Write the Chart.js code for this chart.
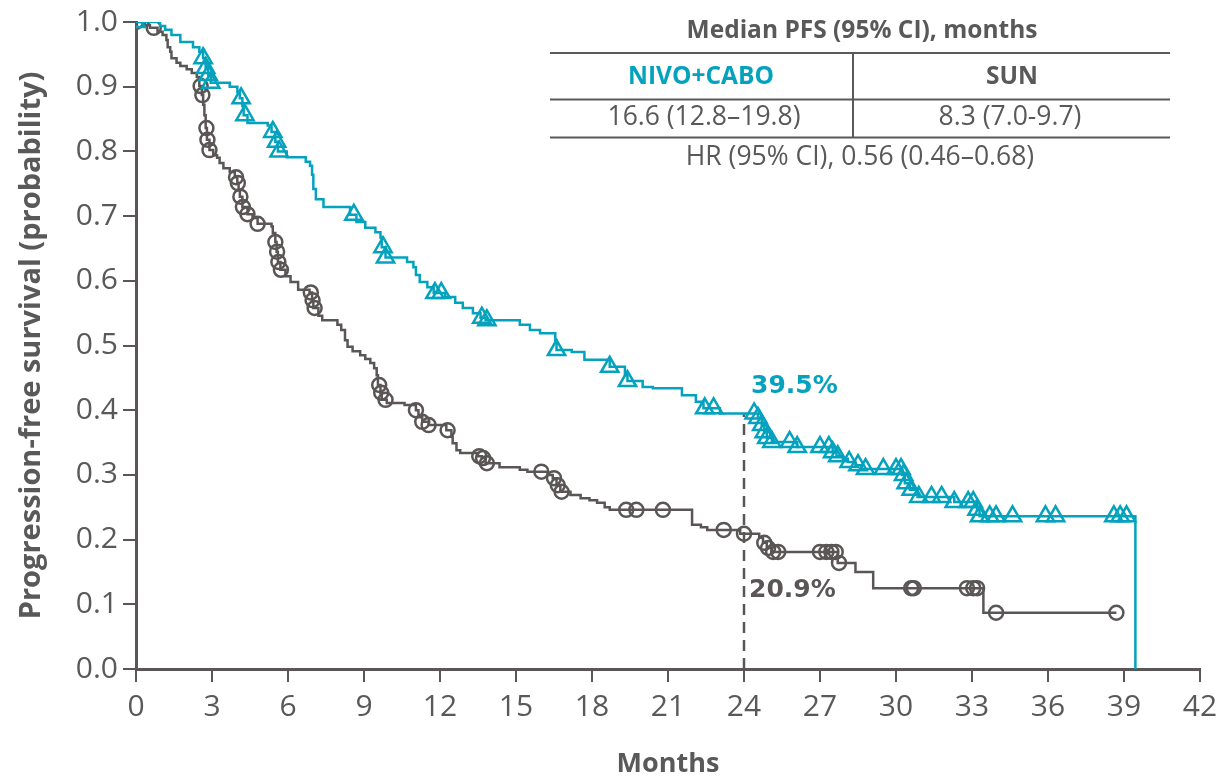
<!DOCTYPE html>
<html>
<head>
<meta charset="utf-8">
<script src="https://cdn.jsdelivr.net/npm/chart.js@4.4.1/dist/chart.umd.min.js"></script>
<style>
  html, body { margin: 0; padding: 0; background: #ffffff; }
  #wrap { width: 1222px; height: 778px; position: relative; }
</style>
</head>
<body>
<div id="wrap"><canvas id="km" width="1222" height="778"></canvas></div>
<script>
// Kaplan-Meier progression-free survival, NIVO+CABO vs SUN

// Axis tick values
const monthTicks = [0, 3, 6, 9, 12, 15, 18, 21, 24, 27, 30, 33, 36, 39, 42];
const probTicks = [0.0, 0.1, 0.2, 0.3, 0.4, 0.5, 0.6, 0.7, 0.8, 0.9, 1.0];

// NIVO+CABO: step times (months) and survival from each time onward
const nivoTimes = [0, 0.95, 1.15, 1.4, 1.75, 2.25, 2.5, 2.65, 2.75, 2.85, 2.95, 3.7, 4.0, 4.1, 4.2, 4.25, 4.4,
  5.2, 5.35, 5.5, 5.6, 5.95, 6.7, 6.87, 6.95, 7.0, 7.1, 7.4, 8.45, 8.7, 9.05, 9.45, 9.65, 9.7, 9.85,
  10.7, 10.95, 11.05, 11.2, 11.5, 11.75, 12.2, 12.6, 12.9, 13.3, 13.6, 13.8, 15.15, 15.55, 15.95,
  16.55, 16.6, 17.2, 17.7, 18.7, 19.3, 19.4, 20.0, 20.4, 21.55, 22.1, 22.4, 23.05,
  24.55, 24.7, 24.8, 24.9, 25.1, 26.1, 27.5, 27.65, 27.9, 28.1, 28.4, 28.65,
  30.25, 30.35, 30.55, 30.85, 32.3, 33.2, 33.3, 39.45];
const nivoSurv = [1.000, 0.994, 0.988, 0.980, 0.969, 0.961, 0.954, 0.944, 0.929, 0.918, 0.906, 0.900, 0.892, 0.882, 0.870, 0.856, 0.844,
  0.840, 0.830, 0.815, 0.800, 0.791, 0.784, 0.778, 0.764, 0.742, 0.726, 0.714, 0.702, 0.691, 0.682, 0.675, 0.667, 0.652, 0.636,
  0.629, 0.621, 0.609, 0.598, 0.590, 0.581, 0.575, 0.566, 0.558, 0.550, 0.543, 0.539, 0.532, 0.524, 0.519,
  0.508, 0.493, 0.490, 0.478, 0.467, 0.454, 0.445, 0.436, 0.434, 0.423, 0.413, 0.403, 0.395,
  0.388, 0.377, 0.366, 0.357, 0.351, 0.343, 0.335, 0.329, 0.325, 0.320, 0.315, 0.309,
  0.300, 0.287, 0.277, 0.266, 0.258, 0.246, 0.236, 0.000];
// NIVO+CABO censoring times (months)
const nivoCensored = [0, 2.65, 2.75, 2.85, 2.95, 4.15, 4.3, 5.4, 5.55, 5.65, 8.6, 9.75, 9.85, 11.8, 12.05,
  13.65, 13.85, 16.6, 18.7, 19.4, 22.45, 22.8, 24.4, 24.55, 24.7, 24.8, 24.9, 25.1, 25.8, 26.1,
  27.0, 27.35, 27.5, 27.7, 28.15, 28.5, 28.8, 29.5, 30.0, 30.2, 30.3, 30.4, 30.6, 30.9, 31.4, 31.8,
  32.3, 32.85, 33.05, 33.2, 33.3, 33.7, 33.95, 34.6, 35.9, 36.3, 38.6, 38.85, 39.1];

// SUN: step times (months) and survival from each time onward
const sunTimes = [0, 0.35, 0.55, 0.85, 1.05, 1.2, 1.25, 1.35, 1.4, 1.6, 1.75, 2.0, 2.2, 2.4, 2.5, 2.6, 2.65, 2.7, 2.75, 2.8, 2.9,
  3.05, 3.2, 3.3, 3.45, 3.7, 3.9, 4.0, 4.05, 4.1, 4.2, 4.4, 4.6, 4.8, 5.35, 5.4, 5.5, 5.55, 5.6, 5.7, 5.9,
  6.1, 6.4, 6.85, 6.95, 7.0, 7.2, 7.35, 7.95, 8.1, 8.25, 8.35, 8.55, 8.85, 9.05, 9.25, 9.4, 9.5, 9.55, 9.65, 9.7, 9.9,
  10.6, 11.05, 11.15, 11.3, 11.55, 12.25, 12.45, 12.5, 12.65, 12.8, 13.5, 13.65, 13.8, 14.35, 15.15, 15.45,
  16.25, 16.45, 16.6, 16.75, 17.15, 17.55, 17.9, 18.2, 18.5, 18.7, 21.95, 22.3, 22.55, 23.85,
  24.6, 24.75, 24.9, 25.1, 27.7, 28.4, 29.1, 33.45, 38.7];
const sunSurv = [1.000, 0.995, 0.991, 0.985, 0.980, 0.972, 0.961, 0.954, 0.944, 0.937, 0.932, 0.927, 0.921, 0.915, 0.901, 0.887, 0.872, 0.856, 0.836, 0.818, 0.802,
  0.794, 0.790, 0.782, 0.774, 0.768, 0.760, 0.751, 0.740, 0.730, 0.714, 0.703, 0.697, 0.688, 0.684, 0.674, 0.660, 0.645, 0.629, 0.617, 0.607,
  0.598, 0.586, 0.582, 0.570, 0.558, 0.546, 0.539, 0.532, 0.524, 0.508, 0.498, 0.491, 0.485, 0.479, 0.473, 0.465, 0.454, 0.439, 0.427, 0.416, 0.411,
  0.408, 0.400, 0.389, 0.382, 0.377, 0.369, 0.359, 0.349, 0.338, 0.334, 0.329, 0.326, 0.318, 0.312, 0.308, 0.305,
  0.300, 0.295, 0.284, 0.274, 0.269, 0.264, 0.261, 0.257, 0.250, 0.246, 0.223, 0.219, 0.215, 0.209,
  0.203, 0.195, 0.187, 0.181, 0.164, 0.150, 0.125, 0.087, 0.087];
// SUN censoring times (months)
const sunCensored = [0, 0.7, 2.55, 2.62, 2.78, 2.82, 2.9, 3.95, 4.02, 4.12, 4.22, 4.4, 4.8, 5.5, 5.57, 5.62, 5.72,
  6.9, 6.97, 7.05, 9.6, 9.68, 9.85, 11.05, 11.3, 11.55, 12.3, 13.55, 13.7, 13.85, 16.0, 16.5, 16.65, 16.8,
  19.35, 19.75, 20.8, 23.2, 24.0, 24.8, 24.95, 25.15, 25.35, 27.0, 27.25, 27.45, 27.62, 27.75,
  30.6, 30.7, 32.8, 33.05, 33.2, 33.95, 38.7];

// 24-month landmark
const landmarkMonth = 24;
const landmarkNivo = 0.395;
const landmarkSun = 0.209;

// Summary table text
const tableTitle = 'Median PFS (95% CI), months';
const armNames = ['NIVO+CABO', 'SUN'];
const armMedians = ['16.6 (12.8\u201319.8)', '8.3 (7.0-9.7)'];
const hazardText = 'HR (95% CI), 0.56 (0.46\u20130.68)';

const TEAL = '#05a2be';
const GRAY = '#5a5656';
const TEXT = '#595959';
const FONT = "'Open Sans', 'DejaVu Sans', sans-serif";

function survivalAt(times, surv, t) {
  let v = surv[0];
  for (let i = 0; i < times.length; i++) {
    if (times[i] <= t + 1e-9) v = surv[i]; else break;
  }
  return v;
}
function stepPoints(times, surv) {
  return times.map((t, i) => ({ x: t, y: surv[i] }));
}
function censorPoints(cens, times, surv) {
  return cens.map(t => ({ x: t, y: survivalAt(times, surv, t) }));
}

// Dashed landmark line and its percentage labels
const landmarkPlugin = {
  id: 'landmark',
  beforeDatasetsDraw(chart) {
    const { ctx, scales: { x, y } } = chart;
    const px = x.getPixelForValue(landmarkMonth);
    ctx.save();
    ctx.strokeStyle = GRAY;
    ctx.lineWidth = 2.5;
    ctx.setLineDash([11, 7]);
    ctx.beginPath();
    ctx.moveTo(px, y.getPixelForValue(0));
    ctx.lineTo(px, y.getPixelForValue(landmarkNivo));
    ctx.stroke();
    ctx.restore();
  },
  afterDatasetsDraw(chart) {
    const { ctx, scales: { x, y } } = chart;
    const px = x.getPixelForValue(landmarkMonth);
    ctx.save();
    ctx.font = "bold 25px 'DejaVu Sans', sans-serif";
    ctx.textAlign = 'left';
    ctx.textBaseline = 'alphabetic';
    ctx.fillStyle = TEAL;
    ctx.fillText((landmarkNivo * 100).toFixed(1) + '%', px + 7, y.getPixelForValue(landmarkNivo) - 20);
    ctx.fillStyle = GRAY;
    ctx.fillText((landmarkSun * 100).toFixed(1) + '%', px + 5, y.getPixelForValue(landmarkSun) + 63);
    ctx.restore();
  }
};

// Median PFS summary table in the upper right
const tablePlugin = {
  id: 'summaryTable',
  afterDraw(chart) {
    const ctx = chart.ctx;
    const left = 550, right = 1170, midX = 853;
    ctx.save();
    ctx.strokeStyle = TEXT;
    ctx.lineWidth = 2;
    [53, 99.5, 137.5].forEach(yy => {
      ctx.beginPath(); ctx.moveTo(left, yy); ctx.lineTo(right, yy); ctx.stroke();
    });
    ctx.beginPath(); ctx.moveTo(midX, 53); ctx.lineTo(midX, 137.5); ctx.stroke();

    ctx.textAlign = 'center';
    ctx.textBaseline = 'alphabetic';
    ctx.fillStyle = TEXT;
    ctx.font = `bold 24.5px ${FONT}`;
    ctx.fillText(tableTitle, 862, 38);
    ctx.fillStyle = TEAL;
    ctx.fillText(armNames[0], 701, 84);
    ctx.fillStyle = TEXT;
    ctx.fillText(armNames[1], 1012, 84);
    ctx.font = `26.5px ${FONT}`;
    ctx.fillText(armMedians[0], 704, 125);
    ctx.fillText(armMedians[1], 1010, 125);
    ctx.fillText(hazardText, 860, 165);
    ctx.restore();
  }
};

new Chart(document.getElementById('km'), {
  type: 'line',
  data: {
    datasets: [
      {
        label: 'NIVO+CABO censored',
        type: 'scatter',
        data: censorPoints(nivoCensored, nivoTimes, nivoSurv),
        pointStyle: 'triangle',
        pointRadius: 10,
        borderColor: TEAL,
        backgroundColor: 'rgba(0,0,0,0)',
        pointBorderWidth: 2.5,
        order: 0
      },
      {
        label: 'NIVO+CABO',
        data: stepPoints(nivoTimes, nivoSurv),
        stepped: 'before',
        borderColor: TEAL,
        borderWidth: 2.5,
        pointRadius: 0,
        fill: false,
        order: 1
      },
      {
        label: 'SUN censored',
        type: 'scatter',
        data: censorPoints(sunCensored, sunTimes, sunSurv),
        pointStyle: 'circle',
        pointRadius: 7,
        borderColor: GRAY,
        backgroundColor: 'rgba(0,0,0,0)',
        pointBorderWidth: 2.5,
        order: 2
      },
      {
        label: 'SUN',
        data: stepPoints(sunTimes, sunSurv),
        stepped: 'before',
        borderColor: GRAY,
        borderWidth: 2.5,
        pointRadius: 0,
        fill: false,
        order: 3
      }
    ]
  },
  options: {
    responsive: false,
    animation: false,
    layout: { padding: { top: 22, right: 22, left: 0, bottom: 0 } },
    plugins: { legend: { display: false }, tooltip: { enabled: false } },
    scales: {
      x: {
        type: 'linear',
        min: 0,
        max: 42,
        afterBuildTicks: s => { s.ticks = monthTicks.map(v => ({ value: v })); },
        afterFit: s => { s.height = 109; s.paddingLeft = 0; s.paddingRight = 0; },
        grid: { display: true, drawOnChartArea: false, drawTicks: true, tickLength: 13, color: GRAY, lineWidth: 2 },
        border: { display: true, color: GRAY, width: 3 },
        ticks: { color: TEXT, font: { family: FONT, size: 30 }, padding: 7, maxRotation: 0, autoSkip: false },
        title: { display: true, text: 'Months', color: TEXT, font: { family: FONT, size: 27, weight: 'bold' }, padding: { top: 0, bottom: -3 } }
      },
      y: {
        type: 'linear',
        min: 0,
        max: 1,
        afterBuildTicks: s => { s.ticks = probTicks.map(v => ({ value: v })); },
        afterFit: s => { s.width = 136; s.paddingTop = 0; s.paddingBottom = 0; },
        grid: { display: true, drawOnChartArea: false, drawTicks: true, tickLength: 13, color: GRAY, lineWidth: 2 },
        border: { display: true, color: GRAY, width: 3 },
        ticks: { color: TEXT, font: { family: FONT, size: 30 }, padding: 5, callback: v => v.toFixed(1) },
        title: { display: true, text: 'Progression-free survival (probability)', color: TEXT, font: { family: FONT, size: 29, weight: 'bold' }, padding: { top: 14, bottom: 0 } }
      }
    }
  },
  plugins: [landmarkPlugin, tablePlugin]
});
</script>
</body>
</html>
